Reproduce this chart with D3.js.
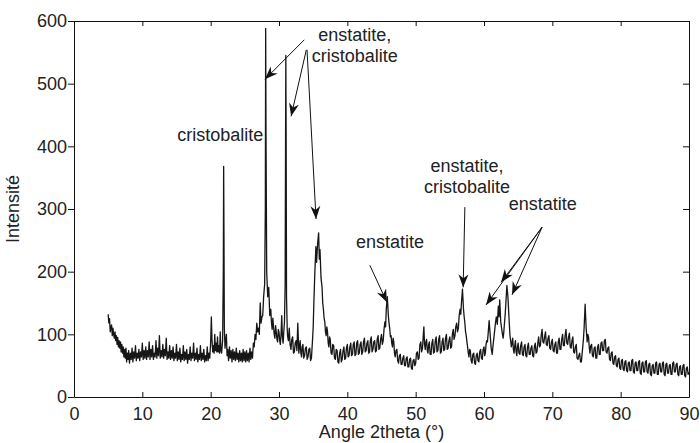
<!DOCTYPE html>
<html>
<head>
<meta charset="utf-8">
<script src="https://cdn.jsdelivr.net/npm/d3@7"></script>
<style>
  body { margin: 0; background: #fff; }
  text { font-family: "Liberation Sans", Arial, sans-serif; fill: #222; }
  .axis path, .axis line { stroke: #111; stroke-width: 1; }
  .axis text { font-size: 18px; fill: #222; }
</style>
</head>
<body>
<div id="chart"></div>
<script>
// XRD scan: [2theta, intensity]
const scan = [
  [5.0,132],[5.1,118],[5.2,125],[5.3,104],[5.4,112],[5.5,115],[5.6,98],[5.7,110],[5.8,100],[5.9,94],[6.0,104],[6.1,90],[6.2,98],[6.3,84],
  [6.4,95],[6.5,80],[6.6,90],[6.7,78],[6.8,88],[6.9,72],[7.0,84],[7.1,70],[7.2,80],[7.3,64],[7.4,76],[7.5,62],[7.6,78],[7.7,56],[7.8,70],[7.9,60],[8.0,74],[8.12,54],[8.25,70],
  [8.37,60],[8.5,78],[8.62,56],[8.75,72],[8.87,62],[9.0,82],[9.12,58],[9.25,70],[9.37,62],[9.5,76],[9.62,58],[9.75,72],[9.87,64],[10.0,86],[10.12,60],[10.25,74],[10.37,62],[10.5,80],[10.62,60],[10.75,74],[10.87,64],
  [11.0,88],[11.12,60],[11.25,76],[11.37,64],[11.5,82],[11.62,60],[11.75,70],[11.87,64],[12.0,90],[12.12,62],[12.25,78],[12.37,66],[12.5,98],[12.62,62],[12.75,74],[12.87,64],[13.0,84],[13.12,62],[13.25,76],
  [13.37,66],[13.5,94],[13.62,60],[13.75,72],[13.87,62],[14.0,82],[14.12,60],[14.25,74],[14.37,62],[14.5,80],[14.62,58],[14.75,70],[14.87,62],[15.0,84],[15.12,58],[15.25,72],[15.37,60],[15.5,78],[15.62,56],[15.75,68],[15.87,60],
  [16.0,82],[16.12,58],[16.25,72],[16.37,60],[16.5,76],[16.62,54],[16.75,68],[16.87,60],[17.0,80],[17.12,58],[17.25,70],[17.37,62],[17.5,86],[17.62,58],[17.75,70],[17.87,60],[18.0,78],[18.12,56],[18.25,68],
  [18.37,60],[18.5,82],[18.62,58],[18.75,70],[18.87,60],[19.0,76],[19.12,56],[19.25,66],[19.37,58],[19.5,80],[19.62,58],[19.75,70],[19.87,62],[20.0,88],[20.1,128],[20.2,90],[20.3,72],[20.4,82],[20.5,70],
  [20.6,100],[20.7,74],[20.8,86],[20.9,72],[21.0,96],[21.1,72],[21.2,82],[21.3,70],[21.4,104],[21.5,74],[21.6,70],[21.75,90],[21.85,200],[21.9,368],[21.95,250],
  [22.0,110],[22.1,78],[22.2,90],[22.3,100],[22.4,66],[22.5,76],[22.62,58],[22.75,80],[22.87,62],[23.0,74],[23.12,56],[23.25,76],[23.37,60],[23.5,72],[23.62,58],[23.75,78],[23.87,60],[24.0,70],
  [24.12,56],[24.25,74],[24.37,58],[24.5,70],[24.62,56],[24.75,76],[24.87,58],[25.0,72],[25.12,56],[25.25,74],[25.37,58],[25.5,70],[25.62,56],[25.75,78],[25.87,60],[26.0,72],[26.12,62],[26.25,86],[26.37,80],[26.5,100],
  [26.62,92],[26.75,118],[26.87,104],[27.0,110],[27.12,100],[27.25,150],[27.37,118],[27.5,128],[27.62,130],[27.75,160],[27.9,180],[28.0,300],[28.05,588],[28.1,420],[28.2,200],
  [28.35,160],[28.5,175],[28.65,130],[28.8,140],[28.9,118],[29.0,108],[29.1,126],[29.2,112],[29.3,100],[29.4,94],[29.5,114],[29.6,104],[29.7,92],[29.8,88],[29.9,108],[30.0,104],
  [30.1,90],[30.2,84],[30.3,100],[30.4,130],[30.5,96],[30.6,86],[30.7,104],[30.8,120],[30.9,180],[31.0,545],[31.05,400],[31.1,160],[31.2,110],[31.25,98],[31.37,90],[31.5,110],
  [31.62,84],[31.75,76],[31.87,92],[32.0,96],[32.12,70],[32.25,72],[32.37,86],[32.5,90],[32.62,74],[32.75,118],[32.9,70],[33.0,80],[33.1,90],[33.2,70],[33.3,64],[33.4,80],[33.5,84],[33.62,62],[33.75,66],
  [33.87,78],[34.0,80],[34.12,60],[34.25,64],[34.37,76],[34.5,78],[34.62,58],[34.75,62],[34.9,90],[35.0,110],[35.1,150],[35.25,200],[35.4,240],[35.5,215],[35.65,245],
  [35.8,262],[35.9,220],[36.0,235],[36.15,190],[36.3,175],[36.4,150],[36.5,140],[36.6,126],[36.7,120],[36.8,104],[36.9,98],[37.0,112],[37.1,104],[37.2,86],[37.3,80],[37.4,96],
  [37.5,92],[37.62,70],[37.75,68],[37.87,84],[38.0,82],[38.12,62],[38.25,60],[38.37,76],[38.5,74],[38.62,56],[38.75,54],[38.87,70],[39.0,76],[39.12,56],[39.25,60],[39.37,74],[39.5,80],[39.62,60],[39.75,62],
  [39.87,78],[40.0,84],[40.12,64],[40.25,66],[40.37,80],[40.5,86],[40.62,66],[40.75,68],[40.87,84],[41.0,88],[41.12,66],[41.25,68],[41.37,86],[41.5,90],[41.62,68],[41.75,70],[41.87,84],[42.0,88],[42.12,68],[42.25,72],
  [42.37,88],[42.5,94],[42.62,72],[42.75,74],[42.87,86],[43.0,90],[43.12,70],[43.25,72],[43.37,90],[43.5,96],[43.62,72],[43.75,76],[43.87,88],[44.0,90],[44.12,72],[44.25,74],[44.37,92],[44.5,98],[44.62,76],[44.75,78],
  [44.87,92],[45.0,100],[45.12,84],[45.25,90],[45.37,108],[45.5,120],[45.6,112],[45.7,140],[45.85,160],[46.0,130],[46.1,118],[46.2,110],[46.3,96],[46.4,98],[46.5,86],[46.6,80],[46.7,94],[46.8,88],
  [46.9,70],[47.0,64],[47.12,74],[47.25,76],[47.37,58],[47.5,54],[47.62,66],[47.75,68],[47.87,52],[48.0,52],[48.12,62],[48.25,66],[48.37,50],[48.5,50],[48.62,62],[48.75,64],[48.87,48],[49.0,48],[49.12,60],[49.25,62],
  [49.37,46],[49.5,44],[49.62,58],[49.75,60],[49.87,50],[50.0,54],[50.12,70],[50.25,72],[50.37,60],[50.5,62],[50.62,84],[50.75,88],[50.87,72],[51.0,78],[51.1,96],[51.2,112],[51.3,84],[51.4,76],[51.5,88],[51.6,92],
  [51.7,74],[51.8,70],[51.9,84],[52.0,88],[52.12,68],[52.25,68],[52.37,86],[52.5,92],[52.62,70],[52.75,72],[52.87,90],[53.0,96],[53.12,72],[53.25,74],[53.37,92],[53.5,98],[53.62,70],[53.75,72],[53.87,88],[54.0,94],
  [54.12,74],[54.25,76],[54.37,94],[54.5,100],[54.62,76],[54.75,78],[54.87,90],[55.0,96],[55.12,78],[55.25,80],[55.37,100],[55.5,108],[55.62,92],[55.75,98],[55.87,112],[56.0,118],[56.12,104],[56.25,110],[56.37,130],[56.5,140],
  [56.6,132],[56.7,150],[56.85,172],[57.0,140],[57.1,128],[57.2,118],[57.3,104],[57.4,98],[57.5,88],[57.6,80],[57.7,70],[57.8,64],[57.9,76],[58.0,74],[58.12,58],[58.25,54],[58.37,68],[58.5,70],
  [58.62,54],[58.75,52],[58.87,66],[59.0,70],[59.12,58],[59.25,56],[59.37,72],[59.5,76],[59.62,62],[59.75,60],[59.87,76],[60.0,80],[60.1,66],[60.2,70],[60.3,84],[60.4,90],[60.5,88],[60.6,100],[60.75,122],
  [60.9,100],[61.05,78],[61.2,68],[61.3,80],[61.4,90],[61.5,100],[61.6,110],[61.7,120],[61.8,128],[61.95,116],[62.1,145],[62.2,128],[62.3,155],
  [62.45,120],[62.6,108],[62.7,100],[62.8,94],[62.9,104],[63.0,118],[63.1,132],[63.2,150],[63.35,178],[63.5,160],[63.65,128],[63.8,98],[63.9,90],[64.0,80],
  [64.1,86],[64.2,94],[64.3,76],[64.4,70],[64.5,82],[64.6,90],[64.7,72],[64.8,66],[64.9,80],[65.0,86],[65.12,70],[65.25,68],[65.37,82],[65.5,88],[65.62,68],[65.75,66],[65.87,80],[66.0,84],[66.12,66],[66.25,64],
  [66.37,80],[66.5,86],[66.62,68],[66.75,68],[66.87,78],[67.0,82],[67.12,66],[67.25,64],[67.37,80],[67.5,86],[67.62,70],[67.75,72],[67.87,86],[68.0,96],[68.12,80],[68.25,82],[68.37,98],[68.5,108],[68.62,88],[68.75,86],
  [68.87,96],[69.0,104],[69.12,84],[69.25,82],[69.37,94],[69.5,98],[69.62,78],[69.75,76],[69.87,88],[70.0,92],[70.12,74],[70.25,72],[70.37,84],[70.5,88],[70.62,70],[70.75,70],[70.87,88],[71.0,94],[71.12,76],[71.25,76],
  [71.37,92],[71.5,100],[71.62,82],[71.75,82],[71.87,98],[72.0,108],[72.12,86],[72.25,84],[72.37,96],[72.5,102],[72.62,80],[72.75,78],[72.87,90],[73.0,96],[73.12,72],[73.25,70],[73.37,80],[73.5,84],[73.62,62],[73.75,60],
  [73.87,66],[74.0,70],[74.12,56],[74.25,56],[74.35,68],[74.45,80],[74.55,92],[74.65,110],[74.8,148],[74.95,110],[75.05,96],[75.1,88],[75.2,100],[75.3,96],[75.4,80],[75.5,70],[75.62,82],[75.75,84],
  [75.87,66],[76.0,64],[76.12,78],[76.25,80],[76.37,62],[76.5,62],[76.62,80],[76.75,84],[76.87,68],[77.0,68],[77.12,86],[77.25,88],[77.37,74],[77.5,74],[77.62,90],[77.75,92],[77.87,72],[78.0,70],[78.12,78],[78.25,80],
  [78.37,60],[78.5,58],[78.62,70],[78.75,72],[78.87,54],[79.0,52],[79.12,64],[79.25,66],[79.37,50],[79.5,48],[79.62,60],[79.75,62],[79.87,46],[80.0,44],[80.12,58],[80.25,60],[80.37,44],[80.5,42],[80.62,56],[80.75,58],
  [80.87,42],[81.0,40],[81.12,54],[81.25,56],[81.37,42],[81.5,42],[81.62,58],[81.75,60],[81.87,40],[82.0,38],[82.12,54],[82.25,56],[82.37,42],[82.5,42],[82.62,56],[82.75,58],[82.87,38],[83.0,36],[83.12,54],[83.25,56],
  [83.37,40],[83.5,40],[83.62,56],[83.75,58],[83.87,40],[84.0,38],[84.12,52],[84.25,54],[84.37,36],[84.5,34],[84.62,50],[84.75,52],[84.87,38],[85.0,38],[85.12,54],[85.25,56],[85.37,36],[85.5,36],[85.62,52],[85.75,54],
  [85.87,40],[86.0,40],[86.12,54],[86.25,56],[86.37,36],[86.5,34],[86.62,52],[86.75,54],[86.87,38],[87.0,38],[87.12,50],[87.25,52],[87.37,36],[87.5,36],[87.62,54],[87.75,56],[87.87,40],[88.0,40],[88.12,52],[88.25,54],
  [88.37,36],[88.5,34],[88.62,48],[88.75,50],[88.87,36],[89.0,36],[89.12,50],[89.25,52],[89.37,34],[89.5,32],[89.62,46],[89.75,48],[89.87,36],[90.0,40]
];

const xTicks = [0, 10, 20, 30, 40, 50, 60, 70, 80, 90];
const yTicks = [0, 100, 200, 300, 400, 500, 600];

// annotation text: [text, 2theta, intensity] (baseline, centered)
const labels = [
  ["cristobalite", 21.4, 408],
  ["enstatite,", 41.1, 568],
  ["cristobalite", 41.1, 534],
  ["enstatite,", 57.5, 359],
  ["cristobalite", 57.5, 326],
  ["enstatite", 46.25, 238],
  ["enstatite", 68.6, 298]
];

// arrows: [tail 2theta, tail I, head 2theta, head I]
const arrows = [
  [33.7, 570, 27.95, 507],
  [34.0, 554, 31.77, 448],
  [34.1, 554, 35.42, 284],
  [57.2, 303, 56.95, 175],
  [43.3, 210, 45.8, 151],
  [68.5, 271, 60.3, 147],
  [68.5, 271, 62.5, 183],
  [68.5, 271, 64.1, 163]
];

const margin = {top: 21, right: 11, bottom: 46, left: 74};
const width = 700 - margin.left - margin.right;
const height = 443 - margin.top - margin.bottom;

const svg = d3.select("#chart").append("svg")
    .attr("width", 700)
    .attr("height", 443)
    .append("g")
    .attr("transform", "translate(" + margin.left + "," + margin.top + ")");

const x = d3.scaleLinear().domain([0, 90]).range([0, width]);
const y = d3.scaleLinear().domain([0, 600]).range([height, 0]);

// data line
const line = d3.line()
    .x(d => x(d[0]))
    .y(d => y(d[1]));

svg.append("path")
    .datum(scan)
    .attr("fill", "none")
    .attr("stroke", "#161616")
    .attr("stroke-width", 1.3)
    .attr("stroke-linejoin", "round")
    .attr("d", line);

// axes (box)
svg.append("g")
    .attr("class", "axis")
    .attr("transform", "translate(0," + height + ")")
    .call(d3.axisBottom(x).tickValues(xTicks).tickSizeInner(-5).tickSizeOuter(0).tickPadding(10));

svg.append("g")
    .attr("class", "axis")
    .call(d3.axisTop(x).tickValues(xTicks).tickSizeInner(-5).tickSizeOuter(0).tickFormat(""));

svg.append("g")
    .attr("class", "axis")
    .call(d3.axisLeft(y).tickValues(yTicks).tickSizeInner(6).tickSizeOuter(0).tickPadding(1));

svg.append("g")
    .attr("class", "axis")
    .attr("transform", "translate(" + width + ",0)")
    .call(d3.axisRight(y).tickValues(yTicks).tickSizeInner(-6).tickSizeOuter(0).tickFormat(""));

// axis titles
svg.append("text")
    .attr("x", x(45))
    .attr("y", height + 41)
    .attr("text-anchor", "middle")
    .attr("font-size", "18px")
    .text("Angle 2theta (°)");

svg.append("text")
    .attr("transform", "translate(" + (-55) + "," + (height / 2) + ") rotate(-90)")
    .attr("text-anchor", "middle")
    .attr("font-size", "18px")
    .text("Intensité");

// annotations
svg.selectAll(".peakLabel")
    .data(labels)
    .enter().append("text")
    .attr("class", "peakLabel")
    .attr("x", d => x(d[1]))
    .attr("y", d => y(d[2]))
    .attr("text-anchor", "middle")
    .attr("font-size", "18px")
    .text(d => d[0]);

const arrowG = svg.selectAll(".arrow")
    .data(arrows)
    .enter().append("g")
    .attr("class", "arrow");

arrowG.append("line")
    .attr("x1", d => x(d[0]))
    .attr("y1", d => y(d[1]))
    .attr("x2", d => x(d[2]))
    .attr("y2", d => y(d[3]))
    .attr("stroke", "#111")
    .attr("stroke-width", 1);

// notched arrow heads
arrowG.append("path")
    .attr("fill", "#111")
    .attr("d", function(d) {
        let x1 = x(d[0]), y1 = y(d[1]), x2 = x(d[2]), y2 = y(d[3]);
        let len = Math.hypot(x2 - x1, y2 - y1);
        let ux = (x2 - x1) / len, uy = (y2 - y1) / len;
        let nx = -uy, ny = ux;
        let L = 13, W = 5, notch = 4;
        let p = [
            [x2, y2],
            [x2 - ux * L + nx * W, y2 - uy * L + ny * W],
            [x2 - ux * (L - notch), y2 - uy * (L - notch)],
            [x2 - ux * L - nx * W, y2 - uy * L - ny * W]
        ];
        return "M" + p.map(q => q.join(",")).join("L") + "Z";
    });
</script>
</body>
</html>
